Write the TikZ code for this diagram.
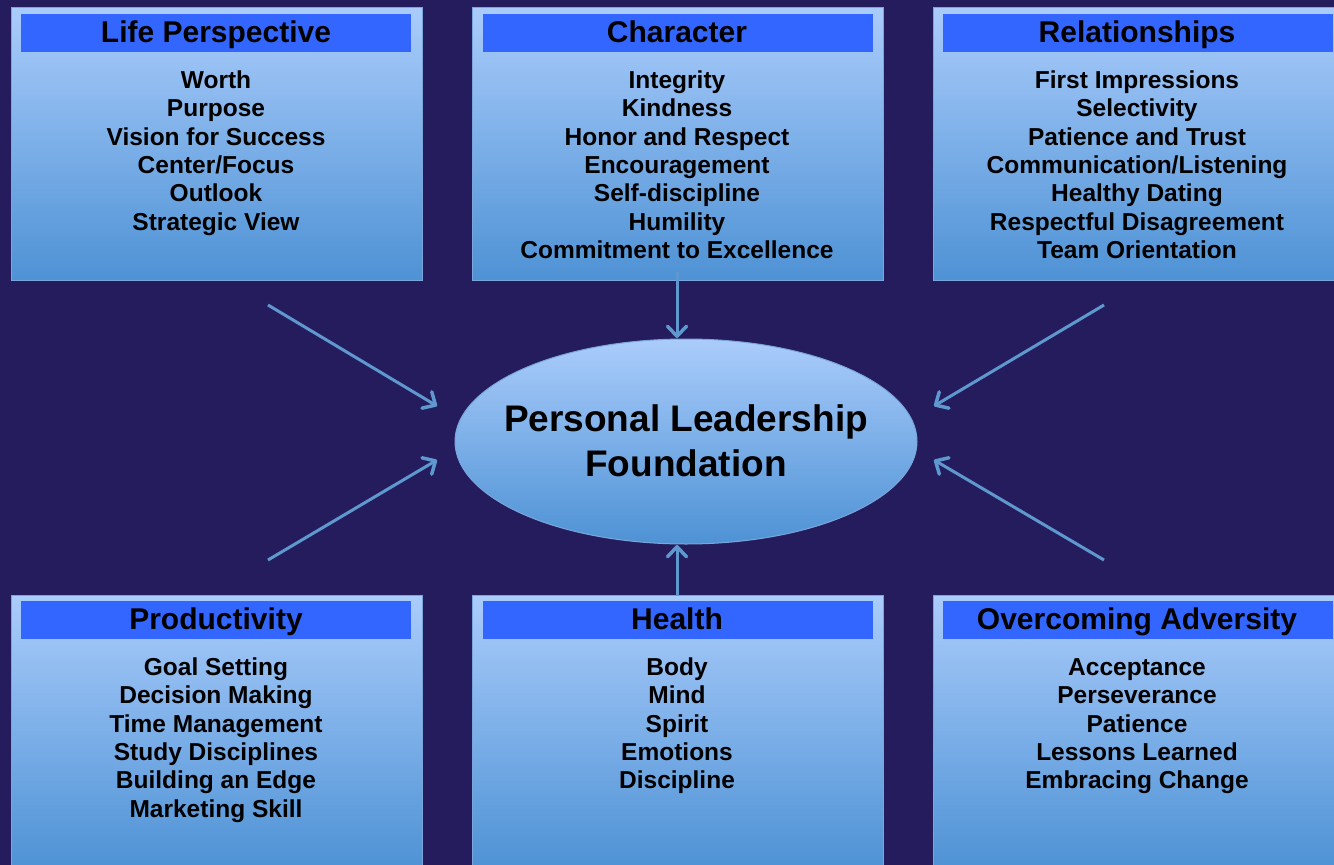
\documentclass[tikz,border=0pt]{standalone}
\usepackage{fontspec}
\setmainfont{Liberation Sans}
\usetikzlibrary{arrows.meta,shapes.geometric}
\definecolor{bg}{HTML}{241C5D}
\definecolor{boxtop}{HTML}{AACCFB}
\definecolor{boxbot}{HTML}{4E92D5}
\definecolor{hdr}{HTML}{3366FF}
\definecolor{arr}{HTML}{5E98CF}
\definecolor{edge}{HTML}{7AA6DB}
\tikzset{
  box/.style={draw=edge, line width=1pt, top color=boxtop, bottom color=boxbot,
    minimum width=411pt, minimum height=273pt, anchor=north west, inner sep=0pt},
  hdrbar/.style={fill=hdr, minimum width=390pt, minimum height=38pt, anchor=north west, inner sep=0pt},
  hdrtext/.style={font=\bfseries\fontsize{30}{34}\selectfont, text height=21.5pt, text depth=0pt, inner sep=0pt},
  items/.style={font=\bfseries\fontsize{24.5}{28.4}\selectfont, align=center, anchor=north, inner sep=0pt},
  link/.style={draw=arr, line width=3pt, -{Straight Barb[length=10pt,width=19pt,line width=3.5pt,round]}},
}
\begin{document}
\begin{tikzpicture}[x=1pt,y=-1pt]
\fill[bg] (0,0) rectangle (1334,865);
\useasboundingbox (0,0) rectangle (1334,865);
% top row
\node[box] (lpbox) at (11,7) {};
\node[hdrbar] (lphdr) at (21,14) {};
\node[hdrtext] (lptitle) at (216,32) {Life Perspective};
\node[items] (lpitems) at (216,69) {\rule{0pt}{19pt}Worth\\Purpose\\Vision for Success\\Center/Focus\\Outlook\\Strategic View};

\node[box] (chbox) at (472,7) {};
\node[hdrbar] (chhdr) at (483,14) {};
\node[hdrtext] (chtitle) at (677,32) {Character};
\node[items] (chitems) at (677,69) {\rule{0pt}{19pt}Integrity\\Kindness\\Honor and Respect\\Encouragement\\Self-discipline\\Humility\\Commitment to Excellence};

\node[box] (rlbox) at (933,7) {};
\node[hdrbar] (rlhdr) at (943,14) {};
\node[hdrtext] (rltitle) at (1137,32) {Relationships};
\node[items] (rlitems) at (1137,69) {\rule{0pt}{19pt}First Impressions\\Selectivity\\Patience and Trust\\Communication/Listening\\Healthy Dating\\Respectful Disagreement\\Team Orientation};

% bottom row
\node[box] (prbox) at (11,595) {};
\node[hdrbar] (prhdr) at (21,601) {};
\node[hdrtext] (prtitle) at (216,619) {Productivity};
\node[items] (pritems) at (216,656) {\rule{0pt}{19pt}Goal Setting\\Decision Making\\Time Management\\Study Disciplines\\Building an Edge\\Marketing Skill};

\node[box] (hebox) at (472,595) {};
\node[hdrbar] (hehdr) at (483,601) {};
\node[hdrtext] (hetitle) at (677,619) {Health};
\node[items] (heitems) at (677,656) {\rule{0pt}{19pt}Body\\Mind\\Spirit\\Emotions\\Discipline};

\node[box] (oabox) at (933,595) {};
\node[hdrbar] (oahdr) at (943,601) {};
\node[hdrtext] (oatitle) at (1137,619) {Overcoming Adversity};
\node[items] (oaitems) at (1137,656) {\rule{0pt}{19pt}Acceptance\\Perseverance\\Patience\\Lessons Learned\\Embracing Change};

% centre
\node[ellipse, draw=edge, line width=1pt, top color=boxtop, bottom color=boxbot,
  minimum width=462pt, minimum height=205pt, inner sep=0pt] (pl) at (686,441.5) {};
\node[font=\bfseries\fontsize{37}{44.3}\selectfont, align=center, anchor=north, inner sep=0pt]
  (pltext) at (686,404.2) {\rule{0pt}{27.5pt}Personal Leadership\\Foundation};

% connectors
\coordinate (a1s) at (268,305); \coordinate (a1e) at (437,406);
\coordinate (a2s) at (268,560); \coordinate (a2e) at (437,460);
\coordinate (a3s) at (1104,305); \coordinate (a3e) at (934,406);
\coordinate (a4s) at (1104,560); \coordinate (a4e) at (934,460);
\coordinate (a5s) at (677,272); \coordinate (a5e) at (677,338);
\coordinate (a6s) at (677,596); \coordinate (a6e) at (677,545);
\draw[link] (a1s) -- (a1e);
\draw[link] (a2s) -- (a2e);
\draw[link] (a3s) -- (a3e);
\draw[link] (a4s) -- (a4e);
\draw[link] (a5s) -- (a5e);
\draw[link] (a6s) -- (a6e);
\end{tikzpicture}
\end{document}
